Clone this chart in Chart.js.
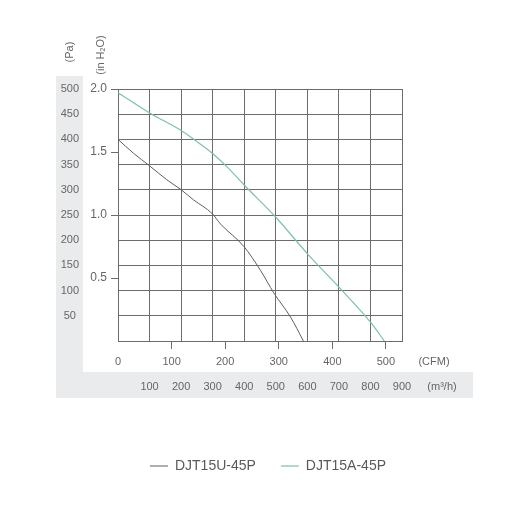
<!DOCTYPE html>
<html lang="en">
<head>
    <meta charset="UTF-8">
    <title>DJT15 fan curves</title>
    <script src="https://cdn.jsdelivr.net/npm/chart.js"></script>
    <style>
        body { margin: 0; background: #fff; }
    </style>
</head>
<body>
    <canvas id="fanChart" width="530" height="514"></canvas>
    <script>
        // airflow (CFM) / static pressure (in H2O)
        const cfmU = [0, 29, 59, 91, 118, 141, 176, 191, 235, 266, 291, 322, 346];
        const pressureU = [1.60, 1.49, 1.39, 1.28, 1.20, 1.12, 1.01, 0.93, 0.75, 0.56, 0.38, 0.19, 0];
        const cfmA = [0, 59, 118, 148, 176, 204, 235, 295, 354, 414, 473, 497];
        const pressureA = [1.97, 1.81, 1.67, 1.58, 1.49, 1.38, 1.24, 0.98, 0.69, 0.42, 0.14, 0];

        const seriesNames = ['DJT15U-45P', 'DJT15A-45P'];

        // tick labels
        const cfmTicks = [0, 100, 200, 300, 400, 500];
        const m3hTicks = [100, 200, 300, 400, 500, 600, 700, 800, 900];
        const inH2OTicks = [0.5, 1.0, 1.5, 2.0];
        const paTicks = [50, 100, 150, 200, 250, 300, 350, 400, 450, 500];

        const gridColor = '#6c6c6c';
        const textColor = '#666';
        const bandColor = '#eaebec';
        const fontFamily = "'Liberation Sans', Arial, sans-serif";

        const toPoints = (xs, ys) => xs.map((x, i) => ({x: x, y: ys[i]}));
        const setTicks = list => scale => { scale.ticks = list.map(v => ({value: v})); };

        // grey bands behind the Pa and m3/h labels
        const bandPlugin = {
            id: 'bands',
            beforeDraw(chart) {
                const ctx = chart.ctx;
                const yp = chart.scales.yp;
                const xm = chart.scales.xm;
                ctx.save();
                ctx.fillStyle = bandColor;
                ctx.fillRect(yp.left, 76, yp.right - yp.left, xm.top + 27 - 76);
                ctx.fillRect(yp.left, xm.top + 1, 473 - yp.left, 26);
                ctx.restore();
            }
        };

        // unit captions
        const unitPlugin = {
            id: 'units',
            afterDraw(chart) {
                const ctx = chart.ctx;
                const area = chart.chartArea;
                const x = chart.scales.x;
                const xm = chart.scales.xm;
                ctx.save();
                ctx.fillStyle = textColor;
                ctx.font = '11px ' + fontFamily;
                ctx.textAlign = 'center';
                ctx.textBaseline = 'middle';
                ctx.fillText('(CFM)', area.right + 32, x.top + 21);
                ctx.fillText('(m\u00b3/h)', area.right + 40, xm.top + 16);

                ctx.translate(70, 52);
                ctx.rotate(-Math.PI / 2);
                ctx.fillText('(Pa)', 0, 0);
                ctx.restore();

                ctx.save();
                ctx.fillStyle = textColor;
                ctx.textBaseline = 'middle';
                ctx.textAlign = 'left';
                ctx.translate(100.5, 55);
                ctx.rotate(-Math.PI / 2);
                const big = '11px ' + fontFamily;
                const small = '7px ' + fontFamily;
                ctx.font = big;
                const w1 = ctx.measureText('(in H').width;
                const w3 = ctx.measureText('O)').width;
                ctx.font = small;
                const w2 = ctx.measureText('2').width;
                let cx = -(w1 + w2 + w3) / 2;
                ctx.font = big;
                ctx.fillText('(in H', cx, 0);
                cx += w1;
                ctx.font = small;
                ctx.fillText('2', cx, 3);
                cx += w2;
                ctx.font = big;
                ctx.fillText('O)', cx, 0);
                ctx.restore();
            }
        };

        const ctx = document.getElementById('fanChart').getContext('2d');
        new Chart(ctx, {
            type: 'line',
            data: {
                datasets: [{
                    label: seriesNames[0],
                    data: toPoints(cfmU, pressureU),
                    borderColor: '#5e5e5e',
                    borderWidth: 1,
                    pointRadius: 0,
                    pointStyle: 'line',
                    cubicInterpolationMode: 'monotone',
                    xAxisID: 'x',
                    yAxisID: 'y'
                }, {
                    label: seriesNames[1],
                    data: toPoints(cfmA, pressureA),
                    borderColor: '#7fbfae',
                    borderWidth: 1.2,
                    pointRadius: 0,
                    pointStyle: 'line',
                    cubicInterpolationMode: 'monotone',
                    xAxisID: 'x',
                    yAxisID: 'y'
                }]
            },
            options: {
                responsive: false,
                animation: false,
                layout: {
                    padding: {left: 56, top: 89, right: 119, bottom: 31}
                },
                plugins: {
                    tooltip: {enabled: false},
                    legend: {
                        position: 'bottom',
                        align: 'end',
                        labels: {
                            usePointStyle: true,
                            pointStyleWidth: 18,
                            padding: 25,
                            color: '#5a5a5a',
                            font: {family: fontFamily, size: 14}
                        }
                    }
                },
                scales: {
                    x: {
                        type: 'linear',
                        position: 'bottom',
                        weight: 0,
                        min: 0,
                        max: 530,
                        afterBuildTicks: setTicks(cfmTicks),
                        afterFit: s => { s.height = 30; },
                        border: {display: true, color: gridColor},
                        grid: {
                            drawOnChartArea: false,
                            drawTicks: true,
                            tickLength: 8,
                            color: c => (c.tick && c.tick.value === 0) ? 'rgba(0,0,0,0)' : gridColor
                        },
                        ticks: {
                            padding: 6,
                            maxRotation: 0,
                            autoSkip: false,
                            color: textColor,
                            font: {family: fontFamily, size: 11}
                        }
                    },
                    xm: {
                        type: 'linear',
                        position: 'bottom',
                        weight: 1,
                        min: 0,
                        max: 900,
                        afterBuildTicks: setTicks(m3hTicks),
                        afterFit: s => { s.height = 63; },
                        border: {display: false},
                        grid: {
                            drawOnChartArea: true,
                            drawTicks: false,
                            color: gridColor
                        },
                        ticks: {
                            padding: 9,
                            maxRotation: 0,
                            autoSkip: false,
                            color: textColor,
                            font: {family: fontFamily, size: 11}
                        }
                    },
                    y: {
                        type: 'linear',
                        position: 'left',
                        weight: 0,
                        min: 0,
                        max: 2,
                        afterBuildTicks: setTicks(inH2OTicks),
                        afterFit: s => { s.width = 35; },
                        border: {display: true, color: gridColor},
                        grid: {
                            drawOnChartArea: false,
                            drawTicks: true,
                            tickLength: 7,
                            color: gridColor
                        },
                        ticks: {
                            padding: 4,
                            color: textColor,
                            font: {family: fontFamily, size: 12},
                            callback: v => v.toFixed(1)
                        }
                    },
                    yp: {
                        type: 'linear',
                        position: 'left',
                        weight: 1,
                        min: 0,
                        max: 500,
                        afterBuildTicks: setTicks(paTicks),
                        afterFit: s => { s.width = 27; },
                        border: {display: false},
                        grid: {
                            drawOnChartArea: true,
                            drawTicks: false,
                            color: gridColor
                        },
                        ticks: {
                            padding: 4,
                            crossAlign: 'center',
                            autoSkip: false,
                            color: textColor,
                            font: {family: fontFamily, size: 11}
                        }
                    },
                    yr: {
                        type: 'linear',
                        position: 'right',
                        display: true,
                        afterFit: s => { s.width = 9; },
                        border: {display: false},
                        grid: {display: false},
                        ticks: {display: false}
                    }
                }
            },
            plugins: [bandPlugin, unitPlugin]
        });
    </script>
</body>
</html>
